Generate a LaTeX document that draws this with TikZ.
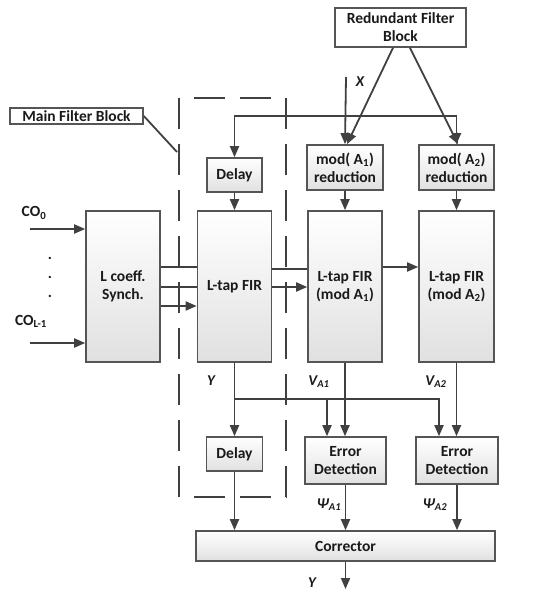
\documentclass[tikz,border=0pt]{standalone}
\usepackage{fontspec}
\setmainfont{Carlito}
\usetikzlibrary{arrows.meta,calc}
\definecolor{ln}{HTML}{404040}
\definecolor{bd}{HTML}{555555}
\definecolor{tx}{HTML}{1A1A1A}
\begin{document}
\begin{tikzpicture}[x=1pt,y=-1pt,
  font=\fontsize{15.5}{18}\selectfont\bfseries, text=tx,
  box/.style={draw=bd, line width=1.6pt, top color=white, bottom color=black!12, align=center, inner sep=0pt},
  plainbox/.style={draw=bd, line width=1.6pt, fill=white, align=center, inner sep=0pt},
  conn/.style={draw=ln, line width=1.8pt},
  arr/.style={conn, -{Triangle[length=11pt,width=9pt]}},
  lbl/.style={inner sep=0pt, font=\fontsize{15}{15}\selectfont\bfseries\itshape},
  dashbox/.style={draw=ln, line width=1.8pt, dash pattern=on 31pt off 15pt}]
\useasboundingbox (0,0) rectangle (533,601);
% dashed main filter region
\draw[dashbox] (179,98) rectangle (286,497);
% boxes
\node[plainbox, minimum width=131pt, minimum height=39pt] (rfb) at (400.5,27.5) {Redundant Filter\\Block};
\node[plainbox, minimum width=133pt, minimum height=16pt] (mfb) at (76.5,116) {Main Filter Block};
\node[box, minimum width=55pt, minimum height=34pt] (delay1) at (234.5,175) {Delay};
\node[box, minimum width=76pt, minimum height=45pt] (modA1) at (345,167.5) {mod( A\textsubscript{1})\\reduction};
\node[box, minimum width=75pt, minimum height=45pt] (modA2) at (456.5,167.5) {mod( A\textsubscript{2})\\reduction};
\node[box, minimum width=74pt, minimum height=151pt] (lcs) at (123,286.5) {L coeff.\\Synch.};
\node[box, minimum width=74pt, minimum height=151pt] (fir) at (234.5,286.5) {L-tap FIR};
\node[box, minimum width=74pt, minimum height=151pt] (firA1) at (345,286.5) {L-tap FIR\\(mod A\textsubscript{1})};
\node[box, minimum width=75pt, minimum height=151pt] (firA2) at (456.5,286.5) {L-tap FIR\\(mod A\textsubscript{2})};
\node[box, minimum width=56pt, minimum height=34pt] (delay2) at (234.5,454) {Delay};
\node[box, minimum width=81pt, minimum height=47pt] (ed1) at (345.5,460.5) {Error\\Detection};
\node[box, minimum width=82pt, minimum height=47pt] (ed2) at (457,460.5) {Error\\Detection};
\node[box, minimum width=299pt, minimum height=30pt] (corr) at (345.5,546) {Corrector};
% coordinates
\coordinate (mfbp) at (177,152);
\coordinate (xin) at (346,77);
\coordinate (fbR) at (456.5,116);
\coordinate (co0) at (30,229);
\coordinate (col) at (30,343);
\coordinate (br) at (234.5,399);
\coordinate (yout) at (345.5,589);
% labels
\node[lbl] (lx) at (360,82) {X};
\node (lco0) at (34,213) {CO\textsubscript{0}};
\node (lcol) at (31,321) {CO\textsubscript{L-1}};
\node (d1) at (50,258) {.};
\node (d2) at (50,277) {.};
\node (d3) at (50,296) {.};
\node[lbl] (ly1) at (211,381) {Y};
\node[lbl] (lva1) at (319,382) {V\textsubscript{A1}};
\node[lbl] (lva2) at (436,382) {V\textsubscript{A2}};
\node[lbl] (lp1) at (329,505) {Ψ\textsubscript{A1}};
\node[lbl] (lp2) at (435,505) {Ψ\textsubscript{A2}};
\node[lbl] (ly2) at (312,583) {Y};
% connectors
\draw[conn] (mfb.east) -- (mfbp);
\draw[arr] (xin) -- (modA1.north);
\draw[arr] ([xshift=-7.5pt]rfb.south) -- ([xshift=2pt]modA1.north);
\draw[arr] ([xshift=9.5pt]rfb.south) -- ([xshift=1.5pt]modA2.north);
\draw[arr] (fbR) -| (delay1.north);
\draw[arr] (fbR) -- (modA2.north);
\draw[arr] (delay1.south) -- (fir.north);
\draw[arr] (modA1.south) -- (firA1.north);
\draw[arr] (modA2.south) -- (firA2.north);
\draw[arr] (co0) -- (co0 -| lcs.west);
\draw[arr] (col) -- (col -| lcs.west);
\draw[conn] ([yshift=19.5pt]lcs.east) -- ([yshift=19.5pt]fir.west);
\draw[conn] ([yshift=-0.5pt]lcs.east) -- ([yshift=-0.5pt]fir.west);
\draw[arr] ([yshift=-19.5pt]lcs.east) -- ([yshift=-19.5pt]fir.west);
\draw[conn] ([yshift=17.5pt]fir.east) -- ([yshift=17.5pt]firA1.west);
\draw[arr] ([yshift=-0.5pt]fir.east) -- ([yshift=-0.5pt]firA1.west);
\draw[arr] ([yshift=19.5pt]firA1.east) -- ([yshift=19.5pt]firA2.west);
\draw[arr] (fir.south) -- (delay2.north);
\draw[arr] (br) -| ([xshift=-18.5pt]ed1.north);
\draw[arr] (br) -| ([xshift=-18pt]ed2.north);
\draw[arr] (firA1.south) -- (firA1.south |- ed1.north);
\draw[arr] (firA2.south) -- (firA2.south |- ed2.north);
\draw[arr] (delay2.south) -- (delay2.south |- corr.north);
\draw[arr] (ed1.south) -- (ed1.south |- corr.north);
\draw[arr] (ed2.south) -- (ed2.south |- corr.north);
\draw[arr] (corr.south) -- (yout);
\end{tikzpicture}
\end{document}
